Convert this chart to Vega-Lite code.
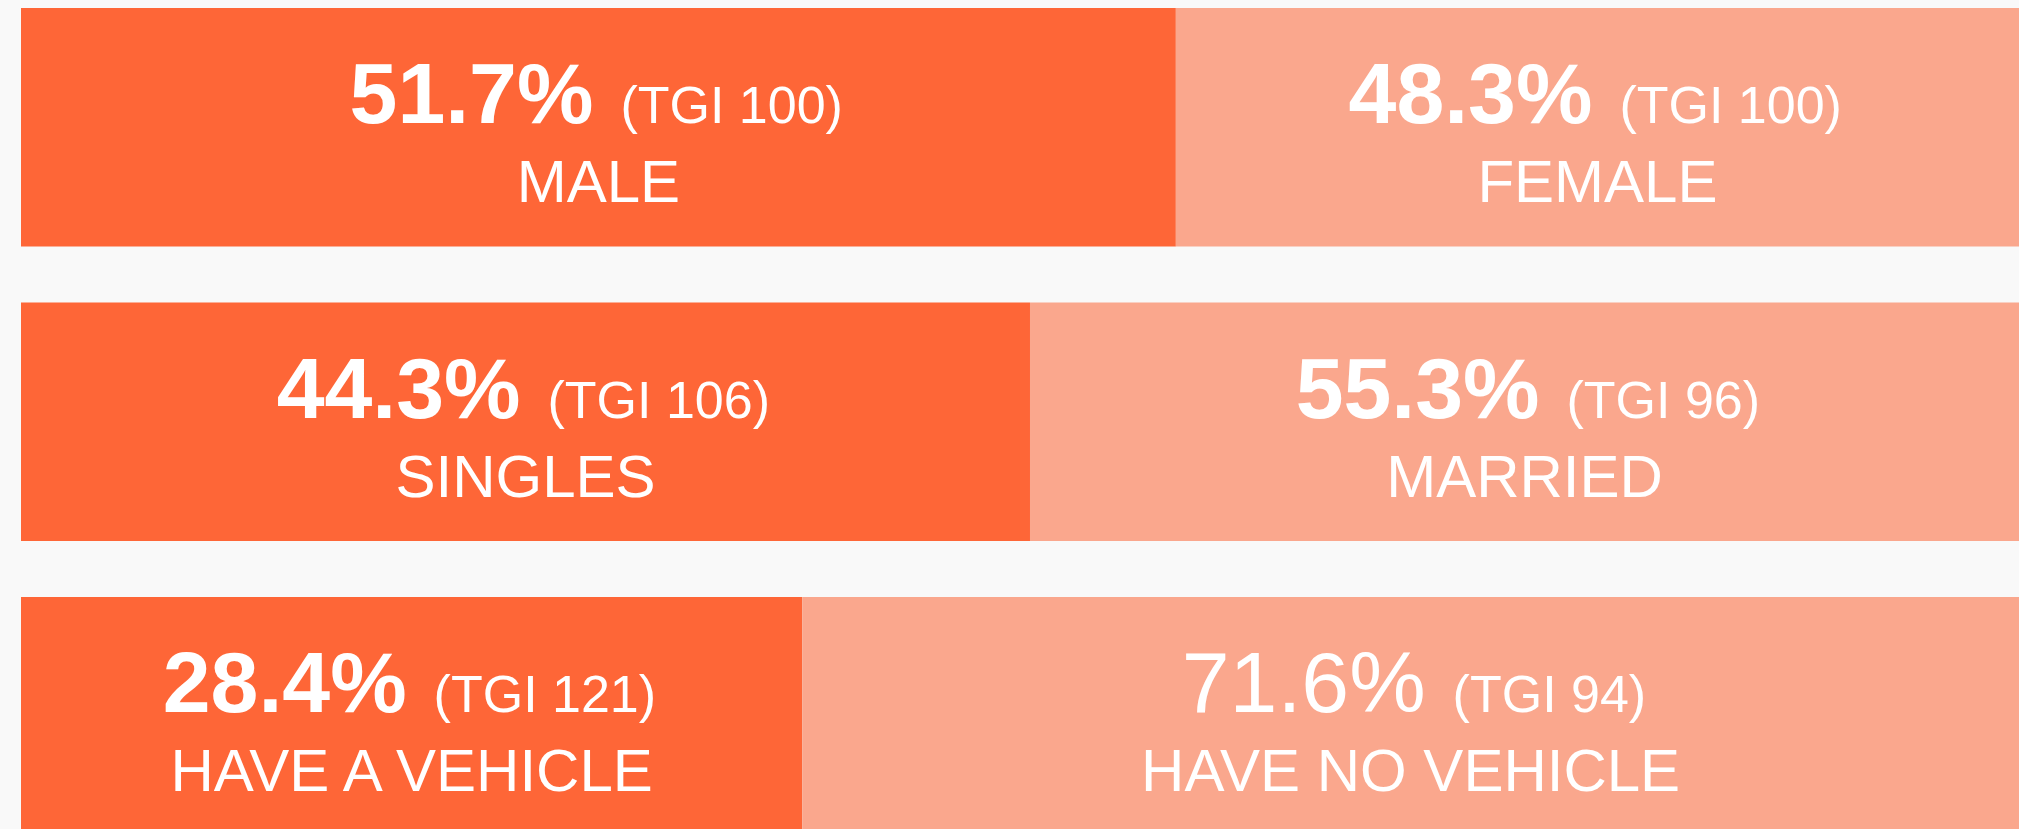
{
  "$schema": "https://vega.github.io/schema/vega-lite/v6.json",
  "width": 1998,
  "height": 829,
  "autosize": {"type": "none"},
  "padding": {"left": 21, "top": 0, "right": 0, "bottom": 0},
  "background": "#F9F9F9",
  "config": {"view": {"stroke": null}},
  "data": {
    "values": [
      {"row": "Gender", "side": "left", "segment": "MALE", "pct": 0.517, "tgi": "(TGI 100)", "share": 57.8},
      {"row": "Gender", "side": "right", "segment": "FEMALE", "pct": 0.483, "tgi": "(TGI 100)", "share": 42.2},
      {"row": "Marital status", "side": "left", "segment": "SINGLES", "pct": 0.443, "tgi": "(TGI 106)", "share": 50.5},
      {"row": "Marital status", "side": "right", "segment": "MARRIED", "pct": 0.553, "tgi": "(TGI 96)", "share": 49.5},
      {"row": "Vehicle", "side": "left", "segment": "HAVE A VEHICLE", "pct": 0.284, "tgi": "(TGI 121)", "share": 39.1},
      {"row": "Vehicle", "side": "right", "segment": "HAVE NO VEHICLE", "pct": 0.716, "tgi": "(TGI 94)", "share": 60.9}
    ]
  },
  "transform": [
    {"stack": "share", "groupby": ["row"], "sort": [{"field": "side", "order": "ascending"}], "as": ["x0", "x1"]},
    {"fold": ["x0", "x1"], "as": ["edge", "edgeValue"]},
    {"joinaggregate": [{"op": "mean", "field": "edgeValue", "as": "mid"}], "groupby": ["row", "side"]},
    {"filter": "datum.edge === 'x0'"}
  ],
  "encoding": {
    "y": {
      "field": "row",
      "type": "nominal",
      "sort": ["Gender", "Marital status", "Vehicle"],
      "axis": null,
      "scale": {"range": [8, 835.5], "paddingInner": 0.19, "paddingOuter": 0}
    }
  },
  "layer": [
    {
      "mark": {"type": "bar", "clip": true},
      "encoding": {
        "x": {"field": "x0", "type": "quantitative", "axis": null, "scale": {"domain": [0, 100], "nice": false, "zero": true}},
        "x2": {"field": "x1"},
        "color": {"field": "side", "type": "nominal", "legend": null, "scale": {"domain": ["left", "right"], "range": ["#FE6637", "#FAA78D"]}}
      }
    },
    {
      "mark": {
        "type": "text",
        "align": "right",
        "baseline": "alphabetic",
        "dy": -4,
        "dx": {"expr": "length(datum.tgi) > 8 ? -5 : 15"},
        "font": "Liberation Sans",
        "fontSize": 86,
        "fontWeight": {"expr": "datum.segment === 'HAVE NO VEHICLE' ? 'normal' : 'bold'"},
        "color": "#FFFFFF"
      },
      "encoding": {
        "x": {"field": "mid", "type": "quantitative"},
        "text": {"field": "pct", "type": "quantitative", "format": ".1%"}
      }
    },
    {
      "mark": {
        "type": "text",
        "align": "left",
        "baseline": "alphabetic",
        "dy": -4,
        "dx": {"expr": "length(datum.tgi) > 8 ? 22 : 42"},
        "font": "Liberation Sans",
        "fontSize": 52,
        "fontWeight": "normal",
        "color": "#FFFFFF"
      },
      "encoding": {
        "x": {"field": "mid", "type": "quantitative"},
        "text": {"field": "tgi", "type": "nominal"}
      }
    },
    {
      "mark": {
        "type": "text",
        "align": "center",
        "baseline": "alphabetic",
        "dy": 75,
        "font": "Liberation Sans",
        "fontSize": 60,
        "fontWeight": "normal",
        "color": "#FFFFFF"
      },
      "encoding": {
        "x": {"field": "mid", "type": "quantitative"},
        "text": {"field": "segment", "type": "nominal"}
      }
    }
  ]
}
